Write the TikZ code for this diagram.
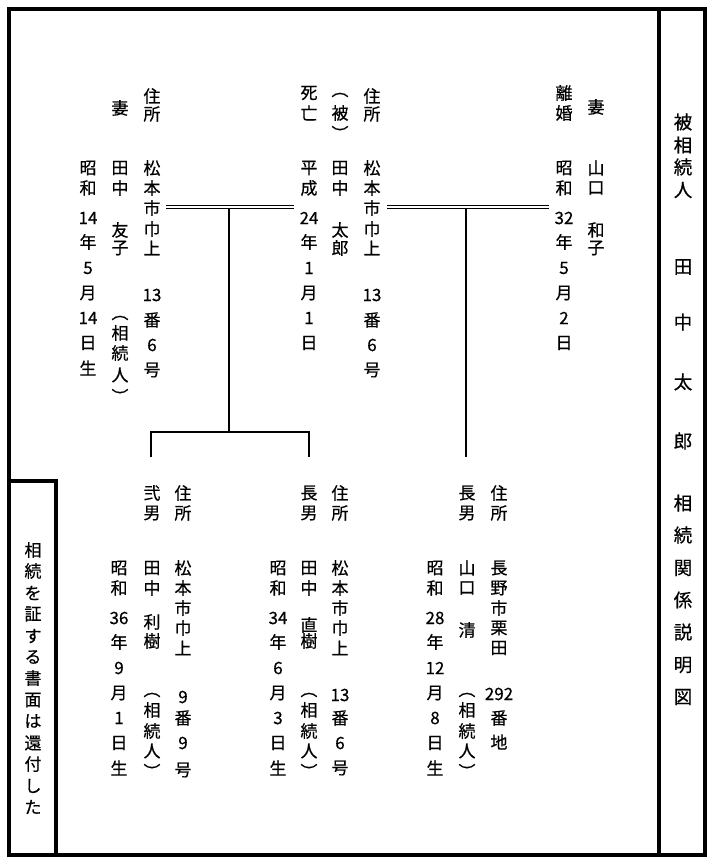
\documentclass[tikz,border=0pt]{standalone}
\usepackage{fontspec}
\setmainfont{Noto Sans CJK JP}[FakeBold=0.5]
\tikzset{
  ch/.style={inner sep=0pt, font=\fontsize{17}{17}\selectfont},
  titlech/.style={inner sep=0pt, font=\fontsize{18.5}{18.5}\selectfont},
  frameline/.style={line width=4pt, line join=miter},
  link/.style={line width=2pt, line join=miter},
  marriage/.style={double, double distance=2.2pt, line width=1.3pt},
}
\newcommand{\vcol}[4][ch]{\foreach \yy/\cc [count=\ii] in {#4}{\node[#1] (#2-\ii) at (#3,\yy) {\cc};}}
\begin{document}
\begin{tikzpicture}[x=1pt,y=-1pt]
\useasboundingbox (0,0) rectangle (718,864);
% frame
\coordinate (fr-nw) at (9,9);
\coordinate (fr-se) at (705,855);
\coordinate (dv-n) at (659,9);
\coordinate (dv-s) at (659,855);
\coordinate (bx-w) at (9,481);
\coordinate (bx-ne) at (56,481);
\coordinate (bx-s) at (56,855);
\draw[frameline] (fr-nw) rectangle (fr-se);
\draw[frameline] (dv-n) -- (dv-s);
\draw[frameline] (bx-w) -- (bx-ne) -- (bx-s);
% title
\vcol[titlech]{t}{683}{122/被,145/相,167/続,190/人,267/田,322/中,382/太,441/郎,503/相,535/続,568/関,600/係,632/説,665/明,697/図}
% side note
\vcol{g}{33}{550/相,571/続,593/を,614/証,636/す,657/る,678/書,700/面,721/は,743/還,764/付,786/し,807/た}
% top: second wife
\vcol{a1}{152}{96/住,114/所,168/松,188/本,208/市,229/巾,248/上,295/13,320/番,345/6,370/号}
\vcol{a2}{120}{108/妻,168/田,188/中,230/友,248/子,318/︵,333/相,353/続,375/人,396/︶}
\vcol{a3}{88}{168/昭,188/和,218/14,242/年,268/5,293/月,318/14,343/日,368/生}
% top: deceased
\vcol{b1}{309}{93/死,113/亡,168/平,188/成,218/24,242/年,268/1,293/月,318/1,343/日}
\vcol{b2}{340}{95/︵,113/被,133/︶,168/田,188/中,230/太,248/郎}
\vcol{b3}{372}{96/住,114/所,168/松,188/本,208/市,229/巾,248/上,295/13,320/番,345/6,370/号}
% top: first wife
\vcol{c1}{564}{93/離,113/婚,168/昭,188/和,218/32,242/年,268/5,293/月,318/2,343/日}
\vcol{c2}{596}{107/妻,168/山,188/口,230/和,248/子}
% bottom: second son
\vcol{d1}{183}{493/住,513/所,568/松,588/本,608/市,628/巾,648/上,697/9,718/番,743/9,770/号}
\vcol{d2}{152}{493/弐,513/男,568/田,588/中,622/利,641/樹,695/︵,710/相,731/続,751/人,771/︶}
\vcol{d3}{119}{568/昭,588/和,618/36,642/年,668/9,693/月,718/1,743/日,768/生}
% bottom: eldest son (Tanaka)
\vcol{e1}{340}{493/住,513/所,568/松,588/本,608/市,628/巾,648/上,695/13,718/番,743/6,768/号}
\vcol{e2}{309}{493/長,513/男,568/田,588/中,625/直,641/樹,695/︵,710/相,731/続,751/人,771/︶}
\vcol{e3}{278}{568/昭,588/和,618/34,642/年,668/6,693/月,718/3,743/日,768/生}
% bottom: eldest son (Yamaguchi)
\vcol{f1}{499}{493/住,513/所,568/長,588/野,608/市,628/栗,648/田,694/292,718/番,742/地}
\vcol{f2}{467}{493/長,513/男,568/山,588/口,630/清,695/︵,710/相,731/続,751/人,771/︶}
\vcol{f3}{435}{568/昭,588/和,618/28,642/年,668/12,693/月,718/8,743/日,768/生}
% connectors
\coordinate (mL-w) at (166,207);
\coordinate (mL-e) at (294,207);
\coordinate (mL-j) at (229,209);
\coordinate (kL-c) at (229,432);
\coordinate (kL-w) at (151,432);
\coordinate (kL-e) at (309,432);
\coordinate (kL-wd) at (151,457);
\coordinate (kL-ed) at (309,457);
\coordinate (mR-w) at (387,207);
\coordinate (mR-e) at (549,207);
\coordinate (mR-j) at (466,209);
\coordinate (kR-d) at (466,457);
\draw[marriage] (mL-w) -- (mL-e);
\draw[marriage] (mR-w) -- (mR-e);
\draw[link] (mL-j) -- (kL-c);
\draw[link] (kL-wd) -- (kL-w) -- (kL-e) -- (kL-ed);
\draw[link] (mR-j) -- (kR-d);
\end{tikzpicture}
\end{document}
